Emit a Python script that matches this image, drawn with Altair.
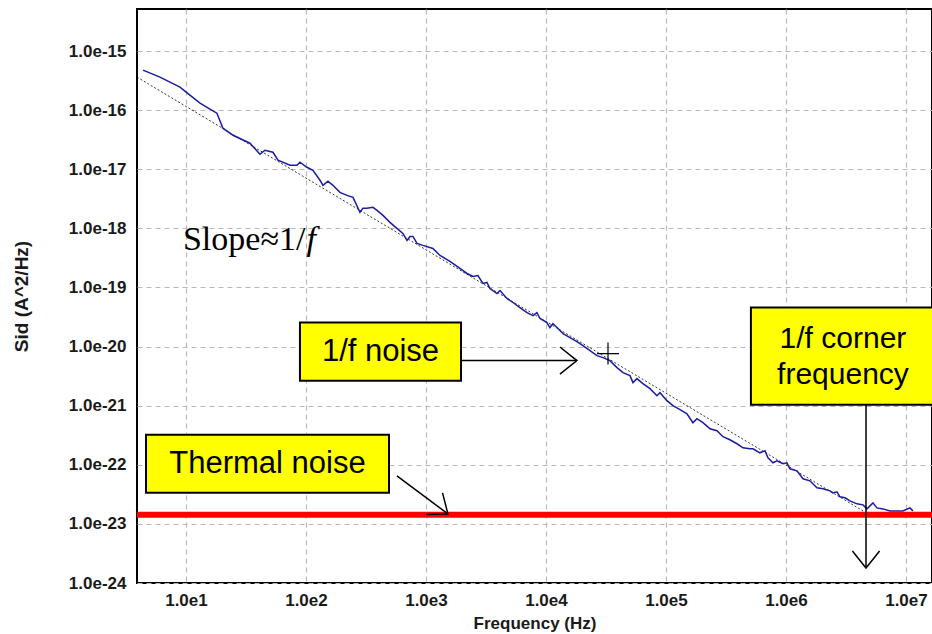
import altair as alt
import pandas as pd

log_f = [0.642,0.783,0.950,1.033,1.117,1.200,1.258,1.308,1.392,1.533,1.617,1.658,1.725,1.767,1.867,1.925,1.950,2.008,2.058,2.117,
         2.142,2.183,2.225,2.283,2.342,2.392,2.450,2.475,2.508,2.558,2.592,2.642,2.700,2.758,2.808,2.842,2.867,2.892,2.925,2.975,
         3.058,3.117,3.200,3.283,3.342,3.392,3.433,3.475,3.508,3.533,3.592,3.617,3.675,3.725,3.783,3.842,3.892,3.925,3.950,4.008,
         4.033,4.058,4.092,4.142,4.200,4.258,4.308,4.367,4.425,4.475,4.533,4.592,4.642,4.700,4.725,4.758,4.808,4.867,4.925,4.950,
         5.008,5.058,5.117,5.175,5.225,5.258,5.308,5.367,5.425,5.475,5.533,5.592,5.642,5.700,5.725,5.783,5.825,5.850,5.892,5.925,
         5.975,6.008,6.033,6.092,6.142,6.200,6.258,6.308,6.367,6.392,6.425,6.450,6.492,6.533,6.592,6.642,6.675,6.725,6.758,6.808,
         6.867,6.925,6.975,7.033,7.058]
log_sid = [-15.322,-15.441,-15.610,-15.746,-15.881,-15.983,-16.051,-16.305,-16.424,-16.559,-16.746,-16.678,-16.712,-16.847,-16.932,-16.932,-16.881,-16.966,-17.017,-17.186,
           -17.271,-17.203,-17.271,-17.390,-17.441,-17.475,-17.729,-17.661,-17.661,-17.644,-17.695,-17.780,-17.898,-18.000,-18.085,-18.203,-18.136,-18.136,-18.254,-18.288,
           -18.339,-18.458,-18.559,-18.678,-18.763,-18.814,-18.797,-18.932,-18.915,-19.017,-19.102,-19.051,-19.186,-19.254,-19.339,-19.424,-19.475,-19.424,-19.525,-19.593,
           -19.678,-19.610,-19.678,-19.780,-19.847,-19.915,-19.983,-20.068,-20.153,-20.186,-20.237,-20.356,-20.441,-20.492,-20.610,-20.542,-20.627,-20.712,-20.831,-20.780,
           -20.915,-21.000,-21.068,-21.136,-21.288,-21.220,-21.288,-21.390,-21.424,-21.525,-21.576,-21.644,-21.712,-21.729,-21.729,-21.797,-21.763,-21.881,-21.966,-21.932,
           -21.983,-21.966,-22.068,-22.102,-22.237,-22.271,-22.390,-22.407,-22.441,-22.475,-22.458,-22.542,-22.559,-22.610,-22.661,-22.678,-22.746,-22.644,-22.729,-22.746,
           -22.780,-22.780,-22.780,-22.729,-22.780]

# 1/f fit line (dashed) and thermal noise floor
ref_log_f = [0.592, 6.642]
ref_log_sid = [-15.441, -22.780]
thermal_log_sid = -22.847

x_ticks = [1e1, 1e2, 1e3, 1e4, 1e5, 1e6, 1e7]
y_ticks = [1e-24, 1e-23, 1e-22, 1e-21, 1e-20, 1e-19, 1e-18, 1e-17, 1e-16, 1e-15]
x_domain_log = [0.592, 7.217]
y_domain_log = [-24.0, -14.288]

# ---- annotations (data coordinates, log10) ----
box_labels = ["1/f noise", "Thermal noise", "corner"]
box_lf = [1.950, 0.667, 5.708]
box_lf2 = [3.292, 2.692, 7.300]
box_ls = [-19.593, -21.492, -19.339]
box_ls2 = [-20.576, -22.475, -20.983]

text_labels = ["1/f noise", "Thermal noise"]
text_lf = [2.621, 1.679]
text_ls = [-20.085, -21.983]

corner_lines = ["1/f corner", "frequency"]
corner_lf = [6.475, 6.475]
corner_ls = [-20.017, -20.627]

arrow_lf = [3.292, 2.758, 6.667]
arrow_ls = [-20.237, -22.186, -20.983]
arrow_lf2 = [4.258, 3.183, 6.667]
arrow_ls2 = [-20.237, -22.831, -23.746]
arrow_angle = [0, 37, 90]

cross_lf = [4.517]
cross_ls = [-20.119]

slope_lf = [0.975]
slope_f_lf = [2.005]
slope_ls = [-18.373]

P = lambda v: 10 ** v

curve = pd.DataFrame({"f": [P(v) for v in log_f], "s": [P(v) for v in log_sid]})
ref = pd.DataFrame({"f": [P(v) for v in ref_log_f], "s": [P(v) for v in ref_log_sid]})
thermal = pd.DataFrame({"s": [P(thermal_log_sid)]})
boxes = pd.DataFrame({"f": [P(v) for v in box_lf], "f2": [P(v) for v in box_lf2],
                      "s": [P(v) for v in box_ls], "s2": [P(v) for v in box_ls2]})
btext = pd.DataFrame({"t": text_labels, "f": [P(v) for v in text_lf], "s": [P(v) for v in text_ls]})
ctext = pd.DataFrame({"t": corner_lines, "f": [P(v) for v in corner_lf], "s": [P(v) for v in corner_ls]})
arrows = pd.DataFrame({"f": [P(v) for v in arrow_lf], "s": [P(v) for v in arrow_ls],
                       "f2": [P(v) for v in arrow_lf2], "s2": [P(v) for v in arrow_ls2],
                       "a": arrow_angle})
cross = pd.DataFrame({"f": [P(v) for v in cross_lf], "s": [P(v) for v in cross_ls]})
slope1 = pd.DataFrame({"t": ["Slope≈1/"], "f": [P(v) for v in slope_lf], "s": [P(v) for v in slope_ls]})
slope2 = pd.DataFrame({"t": ["f"], "f": [P(v) for v in slope_f_lf], "s": [P(v) for v in slope_ls]})

xs = alt.Scale(type="log", domain=[P(x_domain_log[0]), P(x_domain_log[1])], nice=False)
ys = alt.Scale(type="log", domain=[P(y_domain_log[0]), P(y_domain_log[1])], nice=False)

x_axis = alt.Axis(values=x_ticks, labelExpr="'1.0e' + round(log(datum.value)/LN10)",
                  title="Frequency (Hz)", grid=True, ticks=False, domain=False,
                  labelFont="Liberation Sans", labelFontSize=17, labelFontWeight="bold", labelColor="#1a1a1a",
                  labelPadding=9, titleFont="Liberation Sans", titleFontSize=17, titleFontWeight="bold",
                  titleColor="#1a1a1a", titlePadding=7, gridColor="#b8b8b8", gridDash=[5, 4], gridWidth=1.2)
y_axis = alt.Axis(values=y_ticks, labelExpr="'1.0e' + round(log(datum.value)/LN10)",
                  title="Sid (A^2/Hz)", grid=True, ticks=False, domain=False,
                  labelFont="Liberation Sans", labelFontSize=17, labelFontWeight="bold", labelColor="#1a1a1a",
                  labelPadding=11, titleFont="Liberation Sans", titleFontSize=19, titleFontWeight="bold",
                  titleColor="#1a1a1a", titlePadding=37, gridColor="#b8b8b8", gridDash=[5, 4], gridWidth=1.2)

X = lambda fld="f": alt.X(fld, type="quantitative", scale=xs, axis=x_axis)
Y = lambda fld="s": alt.Y(fld, type="quantitative", scale=ys, axis=y_axis)

ref_line = alt.Chart(ref).mark_line(color="black", strokeWidth=0.8, strokeDash=[2, 2]).encode(x=X(), y=Y())
curve_line = alt.Chart(curve).mark_line(color="#1c1ca0", strokeWidth=1.5).encode(x=X(), y=Y())
thermal_line = alt.Chart(thermal).mark_rule(color="#ff0000", strokeWidth=6).encode(y=Y())

rects = alt.Chart(boxes).mark_rect(fill="#ffff00", stroke="black", strokeWidth=2).encode(
    x=X(), x2="f2", y=Y(), y2="s2")
box_text = alt.Chart(btext).mark_text(font="Liberation Sans", fontSize=31, align="center",
                                       baseline="middle", color="black").encode(x=X(), y=Y(), text="t")
corner_text = alt.Chart(ctext).mark_text(font="Liberation Sans", fontSize=30, align="center",
                                          baseline="alphabetic", color="black").encode(x=X(), y=Y(), text="t")
shafts = alt.Chart(arrows).mark_rule(color="black", strokeWidth=1.5).encode(x=X(), x2="f2", y=Y(), y2="s2")
heads = alt.Chart(arrows).mark_point(shape="M-1,-0.8L0,0L-1,0.8", filled=False, stroke="black",
                                      strokeWidth=1.5, size=1156, opacity=1).encode(
    x=alt.X("f2", type="quantitative", scale=xs, axis=x_axis),
    y=alt.Y("s2", type="quantitative", scale=ys, axis=y_axis),
    angle=alt.Angle("a:Q", scale=None))
cross_mark = alt.Chart(cross).mark_point(shape="M-1,0L1,0M0,-1L0,1", filled=False, stroke="black",
                                          strokeWidth=1.2, size=484, opacity=1).encode(x=X(), y=Y())
slope_a = alt.Chart(slope1).mark_text(font="Liberation Serif", fontSize=34, align="left",
                                       baseline="alphabetic", color="black").encode(x=X(), y=Y(), text="t")
slope_b = alt.Chart(slope2).mark_text(font="Liberation Serif", fontSize=34, fontStyle="italic", align="left",
                                       baseline="alphabetic", color="black").encode(x=X(), y=Y(), text="t")

chart = alt.layer(
    ref_line, curve_line, thermal_line, cross_mark, shafts, heads, rects, box_text, corner_text, slope_a, slope_b
).properties(
    width=795, height=574,
    padding={"left": 137, "top": 9, "right": 0, "bottom": 51},
    autosize=alt.AutoSizeParams(type="none"),
    background="white",
).configure_view(stroke="black", strokeWidth=2, fill="white")

chart.save("out.html", embed_options={"renderer": "svg", "actions": False})
